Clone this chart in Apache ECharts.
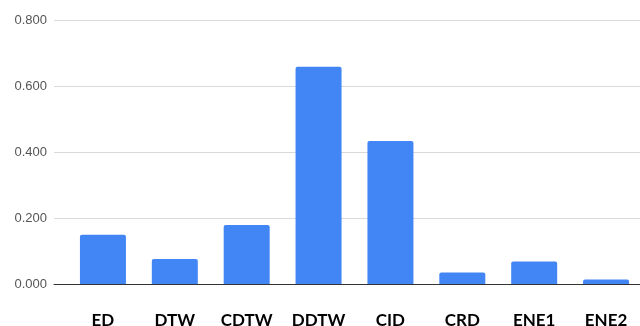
<!DOCTYPE html>
<html>
<head>
<meta charset="utf-8">
<script src="https://cdn.jsdelivr.net/npm/echarts@6/dist/echarts.min.js"></script>
<style>
  html, body { margin: 0; padding: 0; background: #fff; }
  #chart { width: 640px; height: 326px; }
</style>
</head>
<body>
<div id="chart"></div>
<script>
// Distance measures and their scores
const categories = ['ED', 'DTW', 'CDTW', 'DDTW', 'CID', 'CRD', 'ENE1', 'ENE2'];
const scores = [0.149, 0.076, 0.179, 0.658, 0.433, 0.035, 0.068, 0.014];
const yTicks = { min: 0, max: 0.8, interval: 0.2 };

const chart = echarts.init(document.getElementById('chart'), null, { renderer: 'canvas' });

const option = {
  backgroundColor: '#ffffff',
  animation: false,
  grid: [
    // frame: value labels, gridlines and baseline
    { left: 54, right: 0, top: 20, bottom: 42, containLabel: false, outerBoundsMode: 'none' },
    // bars and category labels
    { left: 67, width: 575, top: 20, bottom: 42, containLabel: false, outerBoundsMode: 'none' }
  ],
  xAxis: [
    {
      gridIndex: 0, type: 'value', min: 0, max: 1,
      axisLine: { show: true, lineStyle: { color: '#333333', width: 1 } },
      axisTick: { show: false }, axisLabel: { show: false }, splitLine: { show: false }
    },
    {
      gridIndex: 1, type: 'category', data: categories,
      axisLine: { show: false }, axisTick: { show: false },
      axisLabel: {
        margin: 28, color: '#000000', fontSize: 17, fontWeight: 'bold',
        fontFamily: 'Lato, "Open Sans", sans-serif'
      }
    }
  ],
  yAxis: [
    {
      gridIndex: 0, type: 'value', min: yTicks.min, max: yTicks.max, interval: yTicks.interval,
      axisLine: { show: false }, axisTick: { show: false },
      axisLabel: {
        margin: 7, color: '#555555', fontSize: 13,
        fontFamily: '"Liberation Sans", Arial, sans-serif',
        formatter: v => v.toFixed(3)
      },
      splitLine: { show: true, lineStyle: { color: '#d9d9d9', width: 1 } }
    },
    {
      gridIndex: 1, type: 'value', min: yTicks.min, max: yTicks.max, interval: yTicks.interval,
      show: false, splitLine: { show: false }
    }
  ],
  series: [
    {
      type: 'bar', xAxisIndex: 1, yAxisIndex: 1, data: scores,
      barWidth: 46, z: 1,
      itemStyle: { color: '#4285f4', borderRadius: [2, 2, 0, 0] }
    }
  ]
};

chart.setOption(option);
</script>
</body>
</html>
